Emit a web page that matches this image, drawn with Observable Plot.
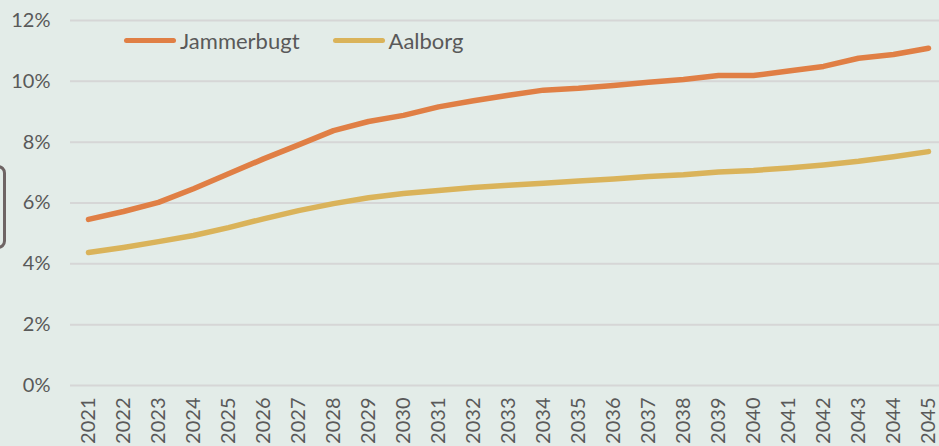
<!DOCTYPE html>
<html>
<head>
<meta charset="utf-8">
<script src="https://cdn.jsdelivr.net/npm/d3@7"></script>
<script src="https://cdn.jsdelivr.net/npm/@observablehq/plot@0.6"></script>
<style>
  html, body { margin: 0; padding: 0; background: #e3ece8; overflow: hidden; }
  #wrap { position: relative; width: 939px; height: 446px; font-family: Lato, "Open Sans", sans-serif; }
  #legend { position: absolute; top: 27px; left: 124px; display: flex; align-items: center; font-size: 22px; color: #595959; }
  #legend .item { display: flex; align-items: center; margin-right: 33px; }
  #legend .sw { width: 52px; height: 5px; border-radius: 3px; margin-right: 4px; }
  #deco { position: absolute; left: -22px; top: 165px; width: 22px; height: 78px; border: 3px solid #6e6464; border-radius: 8px; }
</style>
</head>
<body>
<div id="wrap">
  <div id="chart"></div>
  <div id="legend"></div>
  <div id="deco"></div>
</div>
<script>
const years = [2021,2022,2023,2024,2025,2026,2027,2028,2029,2030,2031,2032,2033,2034,2035,2036,2037,2038,2039,2040,2041,2042,2043,2044,2045];
const jammerbugt = [5.46,5.72,6.02,6.47,6.96,7.45,7.91,8.38,8.68,8.88,9.16,9.36,9.54,9.71,9.77,9.86,9.97,10.06,10.19,10.19,10.34,10.49,10.76,10.88,11.09];
const aalborg = [4.37,4.54,4.73,4.93,5.19,5.48,5.75,5.98,6.17,6.31,6.41,6.51,6.58,6.65,6.72,6.79,6.87,6.93,7.02,7.07,7.15,7.25,7.37,7.52,7.69];
const seriesNames = ["Jammerbugt", "Aalborg"];
const seriesColors = ["#e07f45", "#dab35a"];
const yTicks = [0,2,4,6,8,10,12];

const data = [];
years.forEach((y, i) => {
  data.push({year: y, value: jammerbugt[i] / 100, series: seriesNames[0]});
  data.push({year: y, value: aalborg[i] / 100, series: seriesNames[1]});
});

const plot = Plot.plot({
  width: 939,
  height: 446,
  marginTop: 20,
  marginBottom: 61,
  marginLeft: 88,
  marginRight: 11,
  style: {background: "transparent", fontFamily: "Lato, 'Open Sans', sans-serif", fontSize: "20px", color: "#595959"},
  x: {domain: [2021, 2045]},
  y: {domain: [0, 0.12]},
  color: {domain: seriesNames, range: seriesColors},
  marks: [
    Plot.ruleY(yTicks.map(d => d / 100), {stroke: "#d6d6d6", strokeWidth: 2, insetLeft: -18, insetRight: -11}),
    Plot.axisY(yTicks.map(d => d / 100), {tickSize: 0, tickPadding: 38, tickFormat: d => Math.round(d * 100) + "%", fill: "#595959", fontSize: 20, label: null}),
    Plot.axisX(years, {tickSize: 0, tickRotate: -90, tickPadding: 12, tickFormat: d => String(d), fill: "#595959", fontSize: 20, label: null}),
    Plot.line(data, {x: "year", y: "value", stroke: "series", strokeWidth: 5.5, strokeLinecap: "round", strokeLinejoin: "round"})
  ]
});
document.getElementById("chart").appendChild(plot);

const legend = document.getElementById("legend");
seriesNames.forEach((n, i) => {
  const it = document.createElement("div");
  it.className = "item";
  const sw = document.createElement("div");
  sw.className = "sw";
  sw.style.background = seriesColors[i];
  const t = document.createElement("span");
  t.textContent = n;
  it.appendChild(sw); it.appendChild(t);
  legend.appendChild(it);
});
</script>
</body>
</html>
